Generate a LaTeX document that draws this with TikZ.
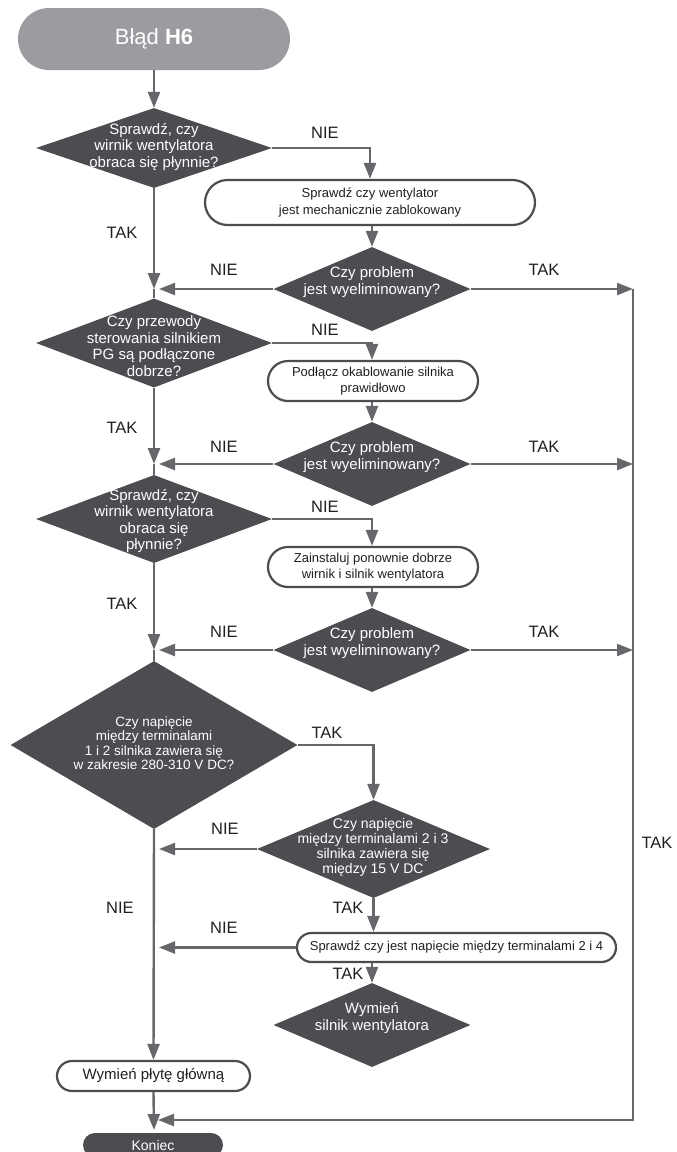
\documentclass[tikz,border=0pt]{standalone}
\usepackage{fontspec}
\setmainfont{Liberation Sans}
\usetikzlibrary{shapes.geometric,arrows.meta}
\definecolor{dk}{HTML}{4D4C51}
\definecolor{ln}{HTML}{67666B}
\definecolor{sg}{HTML}{9C9BA0}
\definecolor{tx}{HTML}{231F20}
\begin{document}
\begin{tikzpicture}[x=1pt,y=-1pt,
 dia/.style={diamond,fill=dk,inner sep=0pt,draw=none},
 dtext/.style={text=white,align=center,font=\fontsize{15}{16.5}\selectfont,inner sep=0pt},
 dtextsm/.style={text=white,align=center,font=\fontsize{13.5}{14.5}\selectfont,inner sep=0pt},
 proc/.style={rectangle,draw=dk,line width=2.2pt,fill=white,align=center,text=tx,font=\fontsize{13}{16.5}\selectfont,inner sep=0pt},
 conn/.style={draw=ln,line width=2.4pt},
 arr/.style={conn,-{Triangle[length=16pt,width=12pt]}},
 lbl/.style={text=tx,font=\fontsize{16.5}{18}\selectfont,inner sep=0pt}
]
\useasboundingbox (0,0) rectangle (677,1152);
\fill[white] (0,0) rectangle (677,1152);

% start
\node[fill=sg,rounded corners=31pt,minimum width=272pt,minimum height=62pt,inner sep=0pt,text=white,font=\fontsize{22}{24}\selectfont] (start) at (154,39) {Błąd \textbf{H6}};

% left column diamonds
\node[dia,minimum width=236pt,minimum height=80pt] (d1) at (154,148) {};
\node[dtext] (t1) at (154,147) {Sprawdź, czy\\wirnik wentylatora\\obraca się płynnie?};
\node[dia,minimum width=236pt,minimum height=89pt] (d3) at (154,343) {};
\node[dtext] (t3) at (154,346) {Czy przewody\\sterowania silnikiem\\PG są podłączone\\dobrze?};
\node[dia,minimum width=236pt,minimum height=88pt] (d5) at (154,519) {};
\node[dtext] (t5) at (154,521) {Sprawdź, czy\\wirnik wentylatora\\obraca się\\płynnie?};
\node[dia,minimum width=287pt,minimum height=168pt] (d7) at (154,745) {};
\node[dtextsm] (t7) at (154,743) {Czy napięcie\\między terminalami\\1 i 2 silnika zawiera się\\w zakresie 280-310 V DC?};

% right column
\node[proc,rounded corners=22.5pt,minimum width=330pt,minimum height=45pt] (b1) at (370,202.5) {Sprawdź czy wentylator\\jest mechanicznie zablokowany};
\node[dia,minimum width=197pt,minimum height=84pt] (d2) at (372,289) {};
\node[dtext] (t2) at (372,282) {Czy problem\\jest wyeliminowany?};

\node[proc,rounded corners=20pt,minimum width=210pt,minimum height=40pt] (b2) at (373,381) {Podłącz okablowanie silnika\\prawidłowo};
\node[dia,minimum width=197pt,minimum height=84pt] (d4) at (372,464) {};
\node[dtext] (t4) at (372,457) {Czy problem\\jest wyeliminowany?};

\node[proc,rounded corners=20pt,minimum width=210pt,minimum height=40pt] (b3) at (373,567) {Zainstaluj ponownie dobrze\\wirnik i silnik wentylatora};
\node[dia,minimum width=197pt,minimum height=84pt] (d6) at (372,650) {};
\node[dtext] (t6) at (372,643) {Czy problem\\jest wyeliminowany?};

\node[dia,minimum width=233pt,minimum height=98pt] (d8) at (373.5,849) {};
\node[dtextsm,font=\fontsize{14}{15}\selectfont] (t8) at (373,847) {Czy napięcie\\między terminalami 2 i 3\\silnika zawiera się\\między 15 V DC};

\node[proc,rounded corners=14.5pt,minimum width=319pt,minimum height=29pt] (b4) at (456.5,947.5) {Sprawdź czy jest napięcie między terminalami 2 i 4};

\node[dia,minimum width=197pt,minimum height=84pt] (d9) at (372,1025) {};
\node[dtext] (t9) at (372,1018) {Wymień\\silnik wentylatora};

\node[proc,rounded corners=15pt,minimum width=193pt,minimum height=30pt,font=\fontsize{15}{17}\selectfont] (b5) at (153.5,1076) {Wymień płytę główną};

\node[fill=dk,rounded corners=12pt,minimum width=140pt,minimum height=24pt,inner sep=0pt,text=white,font=\fontsize{14}{16}\selectfont] (end) at (153,1145) {Koniec};

% coordinates
\coordinate (j1) at (154,289);
\coordinate (j2) at (154,464);
\coordinate (j3) at (154,650);
\coordinate (a2) at (159,289);
\coordinate (a4) at (159,464);
\coordinate (a6) at (159,650);
\coordinate (a8) at (159,849);
\coordinate (a9) at (159,947.5);
\coordinate (r1) at (633,289);
\coordinate (r2) at (633,464);
\coordinate (r3) at (633,650);
\coordinate (rb) at (633,1120);
\coordinate (a10) at (158,1120);
\coordinate (je) at (154,1130);

% main column
\draw[arr] (start.south) -- (d1.north);
\draw[arr] (d1.south) -- (j1);
\draw[conn] (j1) -- (d3.north);
\draw[arr] (d3.south) -- (j2);
\draw[conn] (j2) -- (d5.north);
\draw[arr] (d5.south) -- (j3);
\draw[conn] (j3) -- (d7.north);
\draw[arr] (d7.south) -- (b5.north);
\draw[arr] (b5.south) -- (je);

% branches
\draw[arr] (d1.east) -| (b1.north);
\draw[arr] (b1.south -| d2.north) -- (d2.north);
\draw[arr] (d2.west) -- (a2);
\draw[arr] (d2.east) -- (r1);

\draw[arr] (d3.east) -| (b2.north -| d4.north);
\draw[arr] (b2.south -| d4.north) -- (d4.north);
\draw[arr] (d4.west) -- (a4);
\draw[arr] (d4.east) -- (r2);

\draw[arr] (d5.east) -| (b3.north -| d6.north);
\draw[arr] (b3.south -| d6.north) -- (d6.north);
\draw[arr] (d6.west) -- (a6);
\draw[arr] (d6.east) -- (r3);

\draw[arr] (d7.east) -| (d8.north);
\draw[arr] (d8.west) -- (a8);
\draw[arr] (d8.south) -- (d8.south |- b4.north);
\draw[arr] (b4.west) -- (a9);
\draw[arr] (b4.south -| d9.north) -- (d9.north);

\draw[arr] (r1) -- (rb) -- (a10);

% labels
\node[lbl] (l1) at (325,133) {NIE};
\node[lbl] (l2) at (122,233) {TAK};
\node[lbl] (l3) at (224,270) {NIE};
\node[lbl] (l4) at (544,270) {TAK};
\node[lbl] (l5) at (325,330) {NIE};
\node[lbl] (l6) at (122,428) {TAK};
\node[lbl] (l7) at (224,447) {NIE};
\node[lbl] (l8) at (544,447) {TAK};
\node[lbl] (l9) at (325,507) {NIE};
\node[lbl] (l10) at (122,604) {TAK};
\node[lbl] (l11) at (224,632) {NIE};
\node[lbl] (l12) at (544,632) {TAK};
\node[lbl] (l13) at (327,733) {TAK};
\node[lbl] (l14) at (225,829) {NIE};
\node[lbl] (l15) at (120,908) {NIE};
\node[lbl] (l16) at (348,908) {TAK};
\node[lbl] (l17) at (224,928) {NIE};
\node[lbl] (l18) at (348,974) {TAK};
\node[lbl] (l19) at (657,843) {TAK};
\end{tikzpicture}
\end{document}
